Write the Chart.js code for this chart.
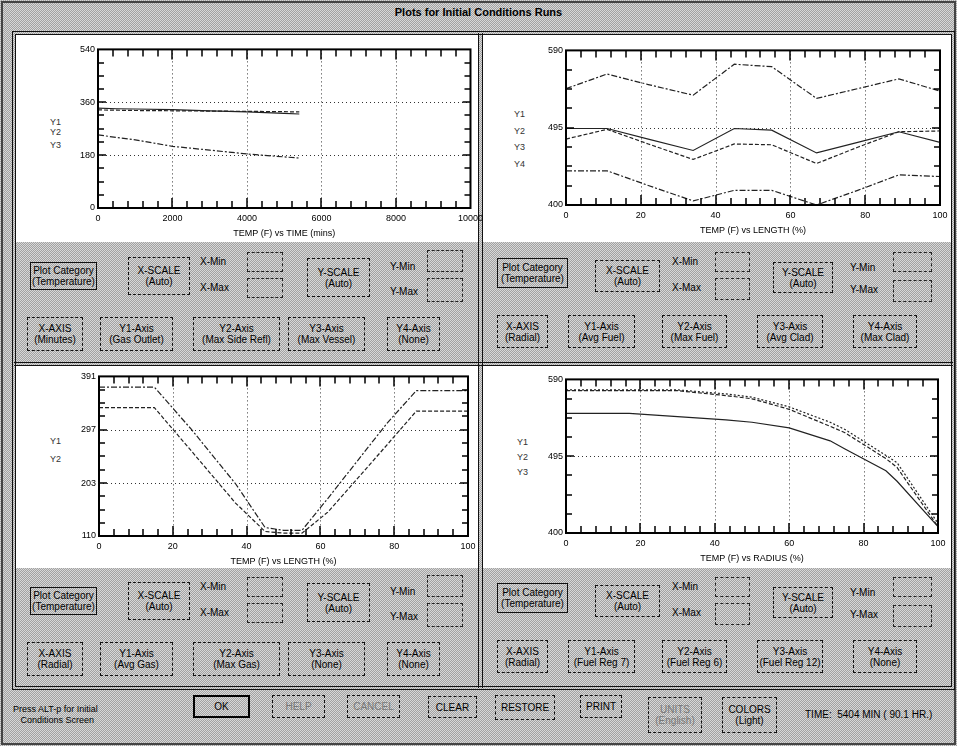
<!DOCTYPE html>
<html>
<head>
<meta charset="utf-8">
<script src="https://cdn.jsdelivr.net/npm/chart.js@4.4.1/dist/chart.umd.min.js"></script>
<style>
body { margin:0; width:957px; height:746px; overflow:hidden; background:#fff; font-family:'Liberation Sans', Arial, sans-serif; }
#win { position:absolute; left:0; top:0; width:957px; height:746px; }
.stip { background-color:#bcbcbc; background-image:repeating-conic-gradient(#a2a2a2 0 25%, #d8d8d8 0 50%); background-size:2px 2px; }
.abs { position:absolute; box-sizing:border-box; }
.white { background:#fff; }
.btn { position:absolute; box-sizing:border-box; border:1px dashed #111; font-size:10px; line-height:11px; text-align:center; display:flex; flex-direction:column; justify-content:center; color:#000; white-space:nowrap; }
.lbl { position:absolute; font-size:10px; color:#000; white-space:nowrap; }
.inp { position:absolute; box-sizing:border-box; border:1px dashed #222; }
.ylab { position:absolute; font-size:9px; color:#333; }
canvas { position:absolute; }
</style>
</head>
<body>
<div id="win" class="stip"></div>
<script>
// ---- data ----
// top left: temperature vs time
const tlTime = [0, 500, 1000, 2000, 3000, 4000, 5000, 5404];
const tlGasOutlet = [340, 338, 337, 335, 331, 327, 322, 320];
const tlMaxSideRefl = [334, 333, 332, 331, 330, 329, 328, 327];
const tlMaxVessel = [249, 240, 232, 210, 197, 184, 174, 170];
const tlXTicks = [0, 2000, 4000, 6000, 8000, 10000];
const tlYTicks = [0, 180, 360, 540];

// top right: temperature vs length (fuel / clad)
const trLength = [0, 11, 22, 34, 45, 55, 67, 78, 89, 100];
const trMaxFuel = [543, 561, 548, 535, 573, 570, 531, 543, 555, 540];
const trMaxClad = [494, 494, 481, 467, 494, 492, 464, 477, 490, 477];
const trAvgClad = [481, 493, 475, 456, 475, 474, 451, 471, 490, 491];
const trAvgFuel = [442, 442, 424, 405, 418, 418, 400, 418, 437, 435];
const trXTicks = [0, 20, 40, 60, 80, 100];
const trYTicks = [400, 495, 590];

// bottom left: temperature vs length (gas)
const blLength = [0, 15, 25, 37, 45, 50, 55, 62, 70, 78, 86, 100];
const blAvgGas = [336, 336, 260, 168, 118, 115, 115, 152, 211, 270, 330, 330];
const blMaxGas = [372, 372, 298, 202, 125, 120, 120, 176, 242, 308, 366, 366];
const blXTicks = [0, 20, 40, 60, 80, 100];
const blYTicks = [110, 203, 297, 391];

// bottom right: temperature vs radius
const brRadius = [0, 17, 30, 43, 50, 60, 71, 75, 86, 89, 100];
const brFuelReg7 = [576, 576, 576, 570, 566, 553, 532, 524, 492, 481, 408];
const brFuelReg6 = [577, 577, 577, 572, 568, 556, 537, 528, 496, 487, 412];
const brFuelReg12 = [548, 548, 544, 540, 537, 530, 514, 504, 477, 464, 408];
const brXTicks = [0, 20, 40, 60, 80, 100];
const brYTicks = [400, 495, 590];

const win = document.getElementById('win');

function el(cls, x, y, w, h, html) {
    let d = document.createElement('div');
    d.className = cls;
    d.style.left = x + 'px';
    d.style.top = y + 'px';
    if (w != null) d.style.width = w + 'px';
    if (h != null) d.style.height = h + 'px';
    if (html != null) d.innerHTML = html;
    win.appendChild(d);
    return d;
}

// window frame
let outer = el('abs', 1, 1, 955, 744);
outer.style.border = '2px solid #444';
let title = el('lbl', 0, 6, 957, null, 'Plots for Initial Conditions Runs');
title.style.textAlign = 'center';
title.style.fontWeight = 'bold';
title.style.fontSize = '11px';

// plot areas (white) and frame lines
el('abs white', 16, 35, 462, 207);
el('abs white', 483, 35, 469, 207);
el('abs white', 16, 366, 462, 202);
el('abs white', 483, 366, 469, 202);
let frame = el('abs', 12, 31, 943, 659);
frame.style.border = '4px double #111';
let vdiv = el('abs', 478, 33, 5, 655);
vdiv.style.borderLeft = '1px solid #111';
vdiv.style.borderRight = '1px solid #111';
let hdiv = el('abs', 14, 362, 939, 4);
hdiv.style.borderTop = '1px solid #111';
hdiv.style.borderBottom = '1px solid #111';

// control panels
const leftLayout = {
    cat: [30, 19, 67, 28], xs: [128, 14, 62, 38], ys: [307, 15, 63, 39],
    xLbl: 200, xMinY: 13, xMaxY: 39, xIn: [247, 9, 36, 20, 35, 20],
    yLbl: 390, yMinY: 18, yMaxY: 43, yIn: [427, 7, 36, 22, 35, 24],
    row: 74, rh: 34, axes: [[27, 56], [100, 73], [193, 87], [288, 77], [387, 53]]
};
const rightLayout = {
    cat: [17, 15, 71, 30], xs: [115, 17, 65, 32], ys: [293, 19, 60, 31],
    xLbl: 192, xMinY: 13, xMaxY: 39, xIn: [235, 9, 35, 20, 35, 22],
    yLbl: 370, yMinY: 19, yMaxY: 41, yIn: [413, 9, 39, 20, 37, 22],
    row: 72, rh: 33, axes: [[17, 51], [88, 67], [182, 65], [277, 66], [373, 64]]
};

function addControls(x0, yc, L, axisNames) {
    let c = el('btn', x0 + L.cat[0], yc + L.cat[1], L.cat[2], L.cat[3], 'Plot Category<br>(Temperature)');
    c.style.borderStyle = 'solid';
    el('btn', x0 + L.xs[0], yc + L.xs[1], L.xs[2], L.xs[3], 'X-SCALE<br>(Auto)');
    el('lbl', x0 + L.xLbl, yc + L.xMinY, null, null, 'X-Min');
    el('lbl', x0 + L.xLbl, yc + L.xMaxY, null, null, 'X-Max');
    el('inp', x0 + L.xIn[0], yc + L.xIn[1], L.xIn[2], L.xIn[3]);
    el('inp', x0 + L.xIn[0], yc + L.xIn[4], L.xIn[2], L.xIn[5]);
    el('btn', x0 + L.ys[0], yc + L.ys[1], L.ys[2], L.ys[3], 'Y-SCALE<br>(Auto)');
    el('lbl', x0 + L.yLbl, yc + L.yMinY, null, null, 'Y-Min');
    el('lbl', x0 + L.yLbl, yc + L.yMaxY, null, null, 'Y-Max');
    el('inp', x0 + L.yIn[0], yc + L.yIn[1], L.yIn[2], L.yIn[3]);
    el('inp', x0 + L.yIn[0], yc + L.yIn[4], L.yIn[2], L.yIn[5]);
    L.axes.forEach((a, i) => {
        el('btn', x0 + a[0], yc + L.row, a[1], L.rh, axisNames[i][0] + '<br>' + axisNames[i][1]);
    });
}

addControls(0, 243, leftLayout, [['X-AXIS', '(Minutes)'], ['Y1-Axis', '(Gas Outlet)'], ['Y2-Axis', '(Max Side Refl)'], ['Y3-Axis', '(Max Vessel)'], ['Y4-Axis', '(None)']]);
addControls(480, 243, rightLayout, [['X-AXIS', '(Radial)'], ['Y1-Axis', '(Avg Fuel)'], ['Y2-Axis', '(Max Fuel)'], ['Y3-Axis', '(Avg Clad)'], ['Y4-Axis', '(Max Clad)']]);
addControls(0, 568, leftLayout, [['X-AXIS', '(Radial)'], ['Y1-Axis', '(Avg Gas)'], ['Y2-Axis', '(Max Gas)'], ['Y3-Axis', '(None)'], ['Y4-Axis', '(None)']]);
addControls(480, 568, rightLayout, [['X-AXIS', '(Radial)'], ['Y1-Axis', '(Fuel Reg 7)'], ['Y2-Axis', '(Fuel Reg 6)'], ['Y3-Axis', '(Fuel Reg 12)'], ['Y4-Axis', '(None)']]);

// bottom bar
let press = el('lbl', 13, 704, null, null, 'Press ALT-p for Initial<br>&nbsp;&nbsp;&nbsp;Conditions Screen');
press.style.fontSize = '9px';
press.style.lineHeight = '11px';
let ok = el('btn', 193, 695, 57, 23, 'OK');
ok.style.border = '2px solid #000';
let help = el('btn', 272, 695, 53, 23, 'HELP');
help.style.color = '#777';
let cancel = el('btn', 347, 695, 53, 23, 'CANCEL');
cancel.style.color = '#777';
el('btn', 428, 696, 49, 22, 'CLEAR');
el('btn', 495, 695, 60, 25, 'RESTORE');
el('btn', 580, 695, 42, 23, 'PRINT');
let units = el('btn', 648, 697, 54, 36, 'UNITS<br>(English)');
units.style.color = '#777';
el('btn', 722, 697, 55, 36, 'COLORS<br>(Light)');
el('lbl', 805, 709, null, null, 'TIME:&nbsp; 5404 MIN ( 90.1 HR.)');

// y legend labels
function yLabels(x, tops, names) {
    names.forEach((n, i) => el('ylab', x, tops[i], null, null, n));
}
yLabels(50, [117, 127, 140], ['Y1', 'Y2', 'Y3']);
yLabels(514, [109, 126, 142, 159], ['Y1', 'Y2', 'Y3', 'Y4']);
yLabels(50, [436, 454], ['Y1', 'Y2']);
yLabels(517, [437, 452, 467], ['Y1', 'Y2', 'Y3']);

// ---- charts ----
Chart.defaults.font.family = "'Liberation Sans', Arial, sans-serif";
Chart.defaults.font.size = 9;
Chart.defaults.color = '#000';

// dotted grid, frame and inward tick marks, all from the scales
const frameTicks = {
    id: 'frameTicks',
    beforeDatasetsDraw(chart) {
        const {ctx, chartArea: a, scales: {x, y}} = chart;
        ctx.save();
        ctx.strokeStyle = '#333';
        ctx.lineWidth = 1;
        ctx.setLineDash([1, 3]);
        x.ticks.slice(1, -1).forEach(t => {
            let px = Math.round(x.getPixelForValue(t.value)) + 0.5;
            ctx.beginPath(); ctx.moveTo(px, a.top); ctx.lineTo(px, a.bottom); ctx.stroke();
        });
        y.ticks.slice(1, -1).forEach(t => {
            let py = Math.round(y.getPixelForValue(t.value)) + 0.5;
            ctx.beginPath(); ctx.moveTo(a.left, py); ctx.lineTo(a.right, py); ctx.stroke();
        });
        ctx.restore();
    },
    afterDatasetsDraw(chart, args, opts) {
        const {ctx, chartArea: a, scales: {x, y}} = chart;
        ctx.save();
        ctx.strokeStyle = '#000';
        ctx.lineWidth = 2;
        ctx.strokeRect(a.left, a.top, a.right - a.left, a.bottom - a.top);
        ctx.lineWidth = 1.5;
        const xt = x.ticks.map(t => t.value);
        for (let i = 0; i < xt.length - 1; i++) {
            for (let k = 0; k < opts.subX; k++) {
                let v = xt[i] + (xt[i + 1] - xt[i]) * k / opts.subX;
                let px = Math.round(x.getPixelForValue(v));
                let len = k === 0 ? 10 : 7;
                ctx.beginPath();
                ctx.moveTo(px, a.top); ctx.lineTo(px, a.top + len);
                ctx.moveTo(px, a.bottom); ctx.lineTo(px, a.bottom - len);
                ctx.stroke();
            }
        }
        const yt = y.ticks.map(t => t.value);
        for (let i = 0; i < yt.length - 1; i++) {
            for (let k = 0; k < opts.subY; k++) {
                let v = yt[i] + (yt[i + 1] - yt[i]) * k / opts.subY;
                let py = Math.round(y.getPixelForValue(v));
                let len = k === 0 ? 8 : 6;
                ctx.beginPath();
                ctx.moveTo(a.left, py); ctx.lineTo(a.left + len, py);
                ctx.moveTo(a.right, py); ctx.lineTo(a.right - len, py);
                ctx.stroke();
            }
        }
        ctx.restore();
    }
};

function makeChart(left, top, width, height, xVals, series, dashes, xTicks, yTicks, xTitle, subX, subY) {
    let canvas = document.createElement('canvas');
    canvas.width = width;
    canvas.height = height;
    canvas.style.left = left + 'px';
    canvas.style.top = top + 'px';
    win.appendChild(canvas);

    let datasets = series.map((s, i) => ({
        data: xVals.map((xv, j) => ({x: xv, y: s[j]})),
        borderColor: '#222',
        borderWidth: 1.2,
        borderDash: dashes[i],
        pointRadius: 0,
        tension: 0,
        fill: false
    }));

    return new Chart(canvas.getContext('2d'), {
        type: 'line',
        data: {datasets: datasets},
        plugins: [frameTicks],
        options: {
            responsive: false,
            animation: false,
            layout: {padding: {top: 6, right: 13, left: 0, bottom: 0}},
            plugins: {legend: {display: false}, tooltip: {enabled: false}, frameTicks: {subX: subX, subY: subY}},
            scales: {
                x: {
                    type: 'linear',
                    min: xTicks[0],
                    max: xTicks[xTicks.length - 1],
                    afterBuildTicks: axis => { axis.ticks = xTicks.map(v => ({value: v})); },
                    afterFit: s => { s.height = 32; },
                    ticks: {padding: 5, maxRotation: 0, autoSkip: false, callback: v => String(v)},
                    grid: {display: false, drawTicks: false},
                    border: {display: false},
                    title: {display: true, text: xTitle, padding: {top: 0, bottom: 1}}
                },
                y: {
                    type: 'linear',
                    min: yTicks[0],
                    max: yTicks[yTicks.length - 1],
                    afterBuildTicks: axis => { axis.ticks = yTicks.map(v => ({value: v})); },
                    afterFit: s => { s.width = 40; },
                    ticks: {padding: 3, autoSkip: false, callback: v => String(v)},
                    grid: {display: false, drawTicks: false},
                    border: {display: false}
                }
            }
        }
    });
}

makeChart(58, 41, 430, 199, tlTime, [tlGasOutlet, tlMaxSideRefl, tlMaxVessel],
    [[], [4, 2], [6, 2, 2, 2]], tlXTicks, tlYTicks, 'TEMP (F) vs TIME (mins)', 5, 4);
makeChart(526, 42, 427, 195, trLength, [trMaxFuel, trMaxClad, trAvgClad, trAvgFuel],
    [[6, 2, 2, 2], [], [4, 2], [6, 2, 2, 2]], trXTicks, trYTicks, 'TEMP (F) vs LENGTH (%)', 5, 4);
makeChart(59, 368, 422, 200, blLength, [blMaxGas, blAvgGas],
    [[6, 2, 2, 2], [4, 2]], blXTicks, blYTicks, 'TEMP (F) vs LENGTH (%)', 5, 4);
makeChart(526, 371, 425, 194, brRadius, [brFuelReg6, brFuelReg7, brFuelReg12],
    [[2, 2], [4, 2], []], brXTicks, brYTicks, 'TEMP (F) vs RADIUS (%)', 5, 4);
</script>
</body>
</html>
